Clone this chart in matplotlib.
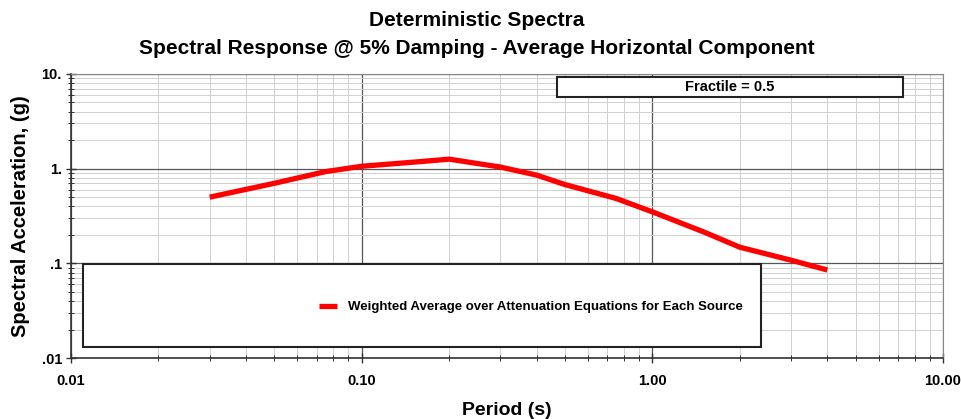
import matplotlib
matplotlib.use("Agg")
import matplotlib.pyplot as plt
from matplotlib.ticker import LogLocator, FixedLocator, FixedFormatter, NullFormatter
from matplotlib.patches import Rectangle

plt.rcParams['font.family'] = ['Liberation Sans', 'DejaVu Sans']

period = [0.03, 0.05, 0.075, 0.1, 0.15, 0.2, 0.3, 0.4, 0.5, 0.75, 1.0, 1.5, 2.0, 3.0, 4.0]
sa = [0.50, 0.70, 0.93, 1.06, 1.17, 1.26, 1.04, 0.855, 0.68, 0.485, 0.35, 0.215, 0.148, 0.108, 0.085]
series_label = "Weighted Average over Attenuation Equations for Each Source"
x_ticks = [0.01, 0.1, 1.0, 10.0]
x_tick_labels = ["0.01", "0.10", "1.00", "10.00"]
y_ticks = [0.01, 0.1, 1.0, 10.0]
y_tick_labels = [".01", ".1", "1.", "10."]

fig = plt.figure(figsize=(9.62, 4.19), dpi=100)
ax = fig.add_axes([71/962, 1-358/419, (943-71)/962, (358-74)/419])
ax.set_xscale('log')
ax.set_yscale('log')
ax.set_xlim(0.01, 10)
ax.set_ylim(0.01, 10)

line, = ax.plot(period, sa, color='#ff0000', lw=3.8, solid_capstyle='butt', label=series_label, zorder=3)

ax.xaxis.set_major_locator(FixedLocator(x_ticks))
ax.xaxis.set_major_formatter(FixedFormatter(x_tick_labels))
ax.yaxis.set_major_locator(FixedLocator(y_ticks))
ax.yaxis.set_major_formatter(FixedFormatter(y_tick_labels))
ax.xaxis.set_minor_locator(LogLocator(base=10, subs=range(2, 10), numticks=20))
ax.yaxis.set_minor_locator(LogLocator(base=10, subs=range(2, 10), numticks=20))
ax.xaxis.set_minor_formatter(NullFormatter())
ax.yaxis.set_minor_formatter(NullFormatter())

ax.grid(which='major', color='#555555', lw=0.9)
ax.grid(which='minor', color='#d0d0d0', lw=0.7)
ax.tick_params(which='both', direction='inout', colors='#333333', labelcolor='black')
ax.tick_params(which='major', length=7, width=1)
ax.tick_params(which='minor', length=4, width=0.7)
ax.tick_params(axis='x', labelsize=10.5, pad=8)
ax.tick_params(axis='y', labelsize=10.5, pad=3)
for lab in ax.get_xticklabels() + ax.get_yticklabels():
    lab.set_fontweight('bold')
ax.tick_params(top=False, right=False, which='both')
for s in ['top', 'right']:
    ax.spines[s].set_color('#888888')
for s in ['left', 'bottom']:
    ax.spines[s].set_color('#333333')
    ax.spines[s].set_linewidth(1.2)

ax.set_xlabel("Period (s)", fontsize=14, fontweight='bold', labelpad=10)
ax.set_ylabel("Spectral Acceleration, (g)", fontsize=14.5, fontweight='bold', labelpad=8)

fig.text(477/962, 1-20/419, "Deterministic Spectra", ha='center', va='center', fontsize=15, fontweight='bold')
fig.text(477/962, 1-48/419, "Spectral Response @ 5% Damping - Average Horizontal Component", ha='center', va='center', fontsize=15, fontweight='bold')

# Fractile box
fig.patches.append(Rectangle((557/962, 1-97/419), (903-557)/962, 20/419, transform=fig.transFigure,
                             facecolor='white', edgecolor='#222222', lw=1.5, zorder=4))
fig.text((557+903)/2/962, 1-87/419, "Fractile = 0.5", ha='center', va='center',
         fontsize=10.5, fontweight='bold', zorder=6)
# Legend box
fig.patches.append(Rectangle((83/962, 1-347/419), (761-83)/962, (347-264)/419, transform=fig.transFigure,
                             facecolor='white', edgecolor='#222222', lw=1.5, zorder=4))

leg = fig.legend(handles=[line], loc='center left', bbox_to_anchor=(307/962, 1-307/419), frameon=False,
                 prop={'weight': 'bold', 'size': 9.5}, handlelength=1.4, handletextpad=0.8)
leg.set_zorder(6)

fig.savefig("out.png", dpi=100)
